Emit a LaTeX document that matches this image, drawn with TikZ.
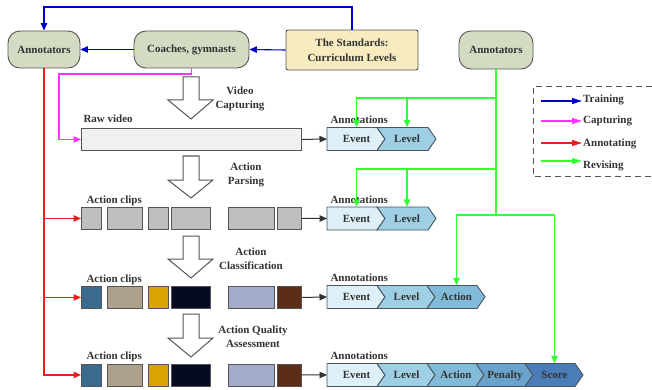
\documentclass[tikz,border=0pt]{standalone}
\usepackage{fontspec}
\setmainfont{Liberation Serif}
\usetikzlibrary{arrows.meta}
\definecolor{tc}{HTML}{333333}
\definecolor{bc}{HTML}{555555}
\definecolor{cb}{HTML}{4A5560}
\definecolor{sage}{HTML}{D3DCC2}
\definecolor{cream}{HTML}{F6ECBF}
\definecolor{rawc}{HTML}{F0F0F0}
\definecolor{clipg}{HTML}{BFBFBF}
\definecolor{chA}{HTML}{DDF0F7}
\definecolor{chB}{HTML}{9ECFE4}
\definecolor{chC}{HTML}{82BBD9}
\definecolor{chD}{HTML}{6AA3CC}
\definecolor{chE}{HTML}{4A7DB8}
\definecolor{k1}{HTML}{3A6B8F}
\definecolor{k2}{HTML}{ADA18B}
\definecolor{k3}{HTML}{DBA300}
\definecolor{k4}{HTML}{070B22}
\definecolor{k5}{HTML}{A3ACC9}
\definecolor{k6}{HTML}{5E2D17}
\definecolor{blu}{HTML}{0000CC}
\definecolor{mag}{HTML}{FF33FF}
\definecolor{rd}{HTML}{EE1C1C}
\definecolor{grn}{HTML}{33FF33}
\definecolor{dk}{HTML}{333333}
\newcommand\chev[7]{%
  \path[draw=cb, fill=#6, line width=0.9] (#2,#4) -- (#3,#4) -- ({#3+8},{#4+11.5}) -- (#3,{#4+23}) -- (#2,{#4+23}) -- ({#2+#5},{#4+11.5}) -- cycle;
  \coordinate (#1w) at (#2,{#4+11.5});
  \node[minimum height=23, minimum width=10, inner sep=0] (#1) at ({(#2+#3)/2+4.5},{#4+11.5}) {};
  \node[txt, anchor=base, inner sep=0] (#1t) at ({(#2+#3)/2+4.5},{#4+15.3}) {#7};
}
\newcommand\clipbox[5]{%
  \node[clipst, fill=#5, minimum width=#4, anchor=north west] (#1) at (#2,#3) {};
}
\newcommand\cliprow[8]{%
  \clipbox{#1a}{81}{#2}{20}{#3}
  \clipbox{#1b}{107}{#2}{35}{#4}
  \clipbox{#1c}{148}{#2}{20}{#5}
  \clipbox{#1d}{171}{#2}{39}{#6}
  \clipbox{#1e}{228}{#2}{46}{#7}
  \clipbox{#1f}{277}{#2}{24}{#8}
  \node[txt, anchor=base west] (#1lab) at (83,{#2-4}) {Action clips};
}
\newcommand\bigarrow[3]{%
  \path[draw=bc, fill=white, line width=1] (183,#1) -- (199,#1) -- (199,#2) -- (213,#2) -- (191,#3) -- (168,#2) -- (183,#2) -- cycle;
}
\begin{document}
\begin{tikzpicture}[x=1pt,y=-1pt,
  txt/.style={font=\fontsize{11}{14}\selectfont\bfseries, text=tc},
  rbox/.style={txt, draw=bc, fill=sage, line width=0.9, rounded corners=12, inner sep=0, align=center},
  clipst/.style={draw=bc, line width=0.9, inner sep=0, minimum height=22},
  tip/.style={-{Triangle[length=7.5pt,width=6.5pt]}},
  bl/.style={tip, draw=blu, line width=1.1},
  mg/.style={tip, draw=mag, line width=1.1},
  rr/.style={tip, draw=rd, line width=1.1},
  gg/.style={tip, draw=grn, line width=1.4},
  dd/.style={tip, draw=dk, line width=1},
  lg/.style={-{Triangle[length=10pt,width=6pt]}, line width=1.1}
]
\useasboundingbox (0,0) rectangle (652,390);

% top boxes
\node[rbox, minimum width=72, minimum height=37] (ann1) at (44,49.5) {Annotators};
\node[rbox, minimum width=115, minimum height=37] (coach) at (191.5,49.5) {Coaches, gymnasts};
\node[rbox, fill=cream, rounded corners=2, minimum width=132, minimum height=40, font=\fontsize{11}{15}\selectfont\bfseries] (std) at (352,50) {The Standards:\\Curriculum Levels};
\node[rbox, minimum width=74, minimum height=38] (ann2) at (496,50) {Annotators};

% raw video
\node[draw=bc, fill=rawc, line width=0.9, inner sep=0, minimum width=220, minimum height=22, anchor=north west] (raw) at (81,128) {};
\node[txt, anchor=base west] (rawlab) at (80,123) {Raw video};

% clip rows
\cliprow{r2}{207}{clipg}{clipg}{clipg}{clipg}{clipg}{clipg}
\cliprow{r3}{286}{k1}{k2}{k3}{k4}{k5}{k6}
\cliprow{r4}{363.5}{k1}{k2}{k3}{k4}{k5}{k6}

% chevrons
\chev{ev1}{327}{377}{127.5}{0}{chA}{Event}
\chev{lv1}{377}{428}{127.5}{8}{chB}{Level}
\chev{ev2}{327}{377}{207}{0}{chA}{Event}
\chev{lv2}{377}{428}{207}{8}{chB}{Level}
\chev{ev3}{327}{377}{285.5}{0}{chA}{Event}
\chev{lv3}{377}{427}{285.5}{8}{chB}{Level}
\chev{ac3}{427}{477}{285.5}{8}{chC}{Action}
\chev{ev4}{327}{377}{363.5}{0}{chA}{Event}
\chev{lv4}{377}{427}{363.5}{8}{chB}{Level}
\chev{ac4}{427}{476}{363.5}{8}{chC}{Action}
\chev{pe4}{476}{525}{363.5}{8}{chD}{Penalty}
\chev{sc4}{525}{575}{363.5}{8}{chE}{Score}
\node[txt, anchor=base west] (an1) at (327,123.5) {Annotations};
\node[txt, anchor=base west] (an2) at (327,203) {Annotations};
\node[txt, anchor=base west] (an3) at (327,281.5) {Annotations};
\node[txt, anchor=base west] (an4) at (327,359.5) {Annotations};

% big arrows
\bigarrow{77}{100}{119}
\bigarrow{156}{180}{198}
\bigarrow{236}{259}{278}
\bigarrow{314}{338}{357}
\node[txt, align=center] (s1) at (240,99) {Video\\Capturing};
\node[txt, align=center] (s2) at (246,175) {Action\\Parsing};
\node[txt, align=center] (s3) at (251,258.5) {Action\\Classification};
\node[txt, align=center] (s4) at (253,336.5) {Action Quality\\Assessment};

% dark arrows
\draw[dd] (raw.east) -- (ev1w);
\draw[dd] (r2f.east) -- (ev2w);
\draw[dd] (r3f.east) -- (ev3w);
\draw[dd] (r4f.east) -- (ev4w);

% blue
\coordinate (tb) at (200,7);
\draw[bl] (std.north) |- (tb) -| (ann1.north);
\draw[bl] (std.west) -- (coach.east);
\draw[bl] (coach.west) -- (ann1.east);

% magenta
\coordinate (mc) at (59,74);
\draw[mg] (coach.south) |- (mc) |- (raw.west);

% red
\draw[rr] (ann1.south) |- (r4a.west);
\draw[rr] (ann1.south |- r2a.west) -- (r2a.west);
\draw[rr] (ann1.south |- r3a.west) -- (r3a.west);

% green
\coordinate (g1) at (0,98);
\coordinate (g2) at (0,169);
\coordinate (g3) at (0,215);
\draw[gg] (ann2.south) |- (ev1.north |- g1) -- (ev1.north);
\draw[gg] (lv1.north |- g1) -- (lv1.north);
\draw[gg] (ann2.south |- g1) |- (ev2.north |- g2) -- (ev2.north);
\draw[gg] (lv2.north |- g2) -- (lv2.north);
\draw[gg] (ann2.south |- g2) |- (ac3.north |- g3) -- (ac3.north);
\draw[gg] (ann2.south |- g3) -| (sc4.north);

% legend
\draw[draw=bc, line width=1, dash pattern=on 6pt off 4pt] (652,87) -- (533,87) -- (533,176) -- (652,176);
\coordinate (l1a) at (541,101); \coordinate (l1b) at (582,101);
\coordinate (l2a) at (541,121); \coordinate (l2b) at (582,121);
\coordinate (l3a) at (541,143); \coordinate (l3b) at (582,143);
\coordinate (l4a) at (541,161); \coordinate (l4b) at (582,161);
\draw[lg, draw=blu] (l1a) -- (l1b);
\draw[lg, draw=mag] (l2a) -- (l2b);
\draw[lg, draw=rd] (l3a) -- (l3b);
\draw[lg, draw=grn] (l4a) -- (l4b);
\node[txt, anchor=west, inner sep=0] (t1) at (583,100) {Training};
\node[txt, anchor=west, inner sep=0] (t2) at (583,121) {Capturing};
\node[txt, anchor=west, inner sep=0] (t3) at (583,143.5) {Annotating};
\node[txt, anchor=west, inner sep=0] (t4) at (583,165.5) {Revising};
\end{tikzpicture}
\end{document}
